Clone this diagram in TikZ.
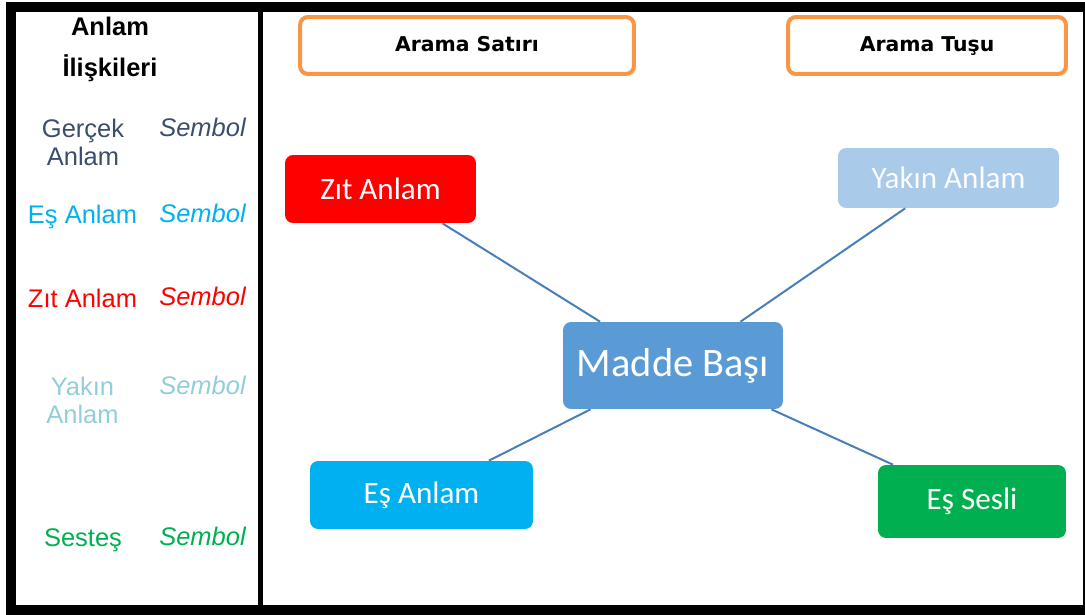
\documentclass[tikz,border=0pt]{standalone}
\usepackage{fontspec}
\setmainfont{Liberation Sans}
\newfontfamily\boxfont{Carlito}
\newfontfamily\tabfont{DejaVu Sans}

\definecolor{realDark}{HTML}{3B4D6E}
\definecolor{synCyan}{HTML}{00B0F0}
\definecolor{antRed}{HTML}{FF0000}
\definecolor{nearBlue}{HTML}{92CDDC}
\definecolor{homGreen}{HTML}{00B050}
\definecolor{headBlue}{HTML}{5B9BD5}
\definecolor{nearFill}{HTML}{A9CAE8}
\definecolor{tabOrange}{HTML}{F79646}
\definecolor{linkBlue}{HTML}{4A7EBB}

\begin{document}
\begin{tikzpicture}[x=0.02cm, y=-0.02cm,
  box/.style={rounded corners=0.16cm, inner sep=0pt, text=white,
              font=\boxfont\fontsize{17.7}{20}\selectfont},
  tab/.style={draw=tabOrange, line width=0.08cm, rounded corners=0.16cm,
              minimum height=1.14cm, inner sep=0pt, text height=0.75em, text depth=0.1em,
              font=\tabfont\bfseries\fontsize{11.6}{13}\selectfont},
  rel/.style={anchor=base, align=center, font=\fontsize{14.5}{15.8}\selectfont},
  sym/.style={anchor=base, font=\itshape\fontsize{14.5}{15.8}\selectfont},
  link/.style={draw=linkBlue, line width=0.04cm}
]
  \useasboundingbox (0,0) rectangle (1085,615);
  % frame
  \draw[line width=0.2cm] (1084,7.5) -- (11,7.5) -- (11,609.5) -- (1084,609.5);
  \draw[line width=0.04cm] (1084,2.5) -- (1084,614.5);
  \draw[line width=0.1cm] (260.5,7.5) -- (260.5,609.5);

  % left panel
  \node[rel, font=\bfseries\fontsize{14.5}{15.8}\selectfont] (title1) at (110,36) {Anlam};
  \node[rel, font=\bfseries\fontsize{14.5}{15.8}\selectfont] (title2) at (110,77) {İlişkileri};
  \node[rel, text=realDark] (real) at (83,165) {Gerçek\\Anlam};
  \node[sym, text=realDark] (realsym) at (202.5,136) {Sembol};
  \node[rel, text=synCyan] (syn) at (82.5,223) {Eş Anlam};
  \node[sym, text=synCyan] (synsym) at (202.5,222) {Sembol};
  \node[rel, text=antRed] (ant) at (82.5,307) {Zıt Anlam};
  \node[sym, text=antRed] (antsym) at (202.5,305) {Sembol};
  \node[rel, text=nearBlue] (near) at (82.5,423) {Yakın\\Anlam};
  \node[sym, text=nearBlue] (nearsym) at (202.5,394) {Sembol};
  \node[rel, text=homGreen] (hom) at (83,546) {Sesteş};
  \node[sym, text=homGreen] (homsym) at (202.5,545) {Sembol};

  % search bar
  \node[tab, minimum width=6.68cm] (searchline) at (467,45.5) {Arama Satırı};
  \node[tab, minimum width=5.56cm] (searchkey) at (927,45.5) {Arama Tuşu};

  % word map
  \node[box, fill=headBlue, minimum width=4.4cm, minimum height=1.74cm,
        font=\boxfont\fontsize{23}{26}\selectfont] (head) at (673,365.5) {Madde Başı};
  \node[box, fill=antRed, minimum width=3.82cm, minimum height=1.36cm] (zit) at (380.5,189) {Zıt Anlam};
  \node[box, fill=nearFill, text=white!94!nearFill, minimum width=4.42cm, minimum height=1.2cm] (yakin) at (948.5,178) {Yakın Anlam};
  \node[box, fill=synCyan, minimum width=4.46cm, minimum height=1.36cm] (esanlam) at (421.5,495) {Eş Anlam};
  \node[box, fill=homGreen, minimum width=3.76cm, minimum height=1.46cm] (essesli) at (972,501.5) {Eş Sesli};

  \draw[link] (zit.-29) -- (head.149);
  \draw[link] (yakin.-145) -- (head.33);
  \draw[link] (esanlam.27) -- (head.-152);
  \draw[link] (essesli.155) -- (head.-24);
\end{tikzpicture}
\end{document}
